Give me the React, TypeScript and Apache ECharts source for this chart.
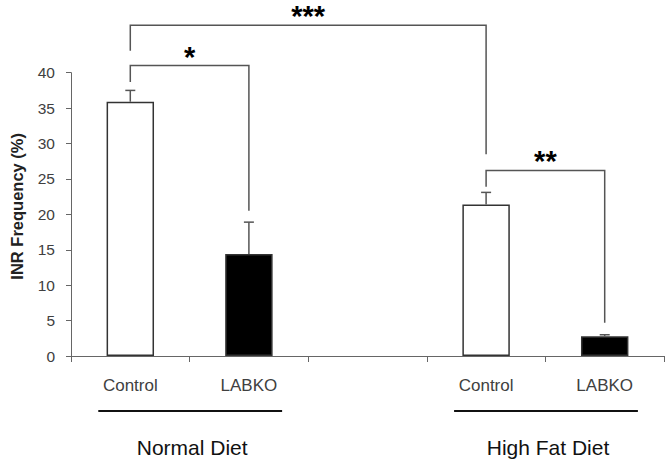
import React, { useEffect, useRef } from "react";
import * as echarts from "echarts";

// ---- data ----
const categories = ["Control", "LABKO", "", "Control", "LABKO"];
const means: (number | null)[] = [35.9, 14.4, null, 21.4, 2.8];
const sems: (number | null)[] = [1.6, 4.5, null, 1.7, 0.2];
const yTickMin = 0;
const yTickMax = 40;
const yTickStep = 5;

// significance brackets (category indices and y-values in axis units)
const bracketFrom = [0, 0, 3];
const bracketTo = [1, 3, 4];
const bracketLevel = [41.0, 46.7, 26.2];
const bracketLeftEnd = [38.7, 43.1, 23.9];
const bracketRightEnd = [20.5, 28.5, 4.7];
const bracketLabels = ["*", "***", "**"];

// diet groups (category index spans)
const groupNames = ["Normal Diet", "High Fat Diet"];
const groupStart = [0, 3];
const groupEnd = [1, 4];

const FONT = "'Liberation Sans', Arial, sans-serif";

export default function App() {
  const ref = useRef<HTMLDivElement>(null);

  useEffect(() => {
    if (!ref.current) return;
    const chart = echarts.init(ref.current, undefined, { renderer: "svg" });

    const barData = means.map((v) => (v === null ? "-" : v));
    const errData: number[][] = [];
    means.forEach((m, i) => {
      if (m !== null && sems[i] !== null) errData.push([i, m, sems[i] as number]);
    });
    const bracketData = bracketFrom.map((f, i) => [
      f,
      bracketLevel[i],
      bracketTo[i],
      bracketLeftEnd[i],
      bracketRightEnd[i],
    ]);
    const groupData = groupStart.map((s, i) => [s, 0, groupEnd[i]]);

    chart.setOption({
      animation: false,
      grid: { left: 69, right: 6, top: 72.7, bottom: 103 },
      xAxis: {
        type: "category",
        data: categories,
        axisLine: { lineStyle: { color: "#666", width: 1 } },
        axisTick: { show: true, length: 6, lineStyle: { color: "#666" } },
        axisLabel: {
          margin: 21,
          fontSize: 17,
          color: "#404040",
          fontFamily: FONT,
          interval: 0,
        },
        splitLine: { show: false },
      },
      yAxis: {
        type: "value",
        min: yTickMin,
        max: yTickMax,
        interval: yTickStep,
        name: "INR Frequency (%)",
        nameLocation: "middle",
        nameRotate: 90,
        nameGap: 46,
        nameTextStyle: {
          fontSize: 16.5,
          fontWeight: "bold",
          color: "#222",
          fontFamily: FONT,
          padding: [0, 0, 0, 16],
        },
        axisLine: { show: true, lineStyle: { color: "#666", width: 1 } },
        axisTick: { show: true, length: 5, lineStyle: { color: "#666" } },
        axisLabel: {
          margin: 16,
          fontSize: 15.5,
          color: "#404040",
          fontFamily: FONT,
        },
        splitLine: { show: false },
      },
      series: [
        {
          type: "bar",
          data: barData,
          barWidth: "40%",
          itemStyle: {
            color: (p: any) => (categories[p.dataIndex] === "LABKO" ? "#000" : "#fff"),
            borderColor: "#333",
            borderWidth: 1.5,
          },
          z: 2,
        },
        {
          type: "custom",
          clip: false,
          z: 3,
          encode: { x: 0, y: 1 },
          data: errData,
          renderItem: (params: any, api: any) => {
            const x = api.value(0);
            const m = api.value(1);
            const e = api.value(2);
            const p0 = api.coord([x, m]);
            const p1 = api.coord([x, m + e]);
            const style = { stroke: "#555", lineWidth: 1.5 };
            return {
              type: "group",
              children: [
                { type: "line", shape: { x1: p0[0], y1: p0[1], x2: p1[0], y2: p1[1] }, style },
                { type: "line", shape: { x1: p1[0] - 5, y1: p1[1], x2: p1[0] + 5, y2: p1[1] }, style },
              ],
            };
          },
        },
        {
          type: "custom",
          clip: false,
          z: 4,
          encode: { x: 0, y: 1 },
          data: bracketData,
          renderItem: (params: any, api: any) => {
            const f = api.value(0);
            const lvl = api.value(1);
            const t = api.value(2);
            const le = api.value(3);
            const re = api.value(4);
            const a = api.coord([f, le]);
            const b = api.coord([f, lvl]);
            const c = api.coord([t, lvl]);
            const d = api.coord([t, re]);
            const mid = (b[0] + c[0]) / 2;
            return {
              type: "group",
              children: [
                {
                  type: "polyline",
                  shape: { points: [a, b, c, d] },
                  style: { stroke: "#555", lineWidth: 1.5, fill: "none" },
                },
                {
                  type: "text",
                  x: mid,
                  y: b[1] - 9,
                  style: {
                    text: bracketLabels[params.dataIndex],
                    fontSize: 29,
                    fontWeight: "bold",
                    fontFamily: FONT,
                    fill: "#000",
                    align: "center",
                    verticalAlign: "middle",
                  },
                },
              ],
            };
          },
        },
        {
          type: "custom",
          clip: false,
          z: 4,
          encode: { x: 0, y: 1 },
          data: groupData,
          renderItem: (params: any, api: any) => {
            const s = api.value(0);
            const e = api.value(2);
            const bw = api.size([1, 0])[0];
            const ps = api.coord([s, 0]);
            const pe = api.coord([e, 0]);
            const x1 = ps[0] - 0.27 * bw;
            const x2 = pe[0] + 0.28 * bw;
            const y0 = ps[1];
            return {
              type: "group",
              children: [
                {
                  type: "line",
                  shape: { x1, y1: y0 + 55, x2, y2: y0 + 55 },
                  style: { stroke: "#111", lineWidth: 2 },
                },
                {
                  type: "text",
                  x: (x1 + x2) / 2 + 2,
                  y: y0 + 91,
                  style: {
                    text: groupNames[params.dataIndex],
                    fontSize: 21,
                    fontFamily: FONT,
                    fill: "#111",
                    align: "center",
                    verticalAlign: "middle",
                  },
                },
              ],
            };
          },
        },
      ],
    });

    return () => chart.dispose();
  }, []);

  return (
    <div
      ref={ref}
      style={{ position: "fixed", left: 0, top: 0, width: 670, height: 459, background: "#fff" }}
    />
  );
}
